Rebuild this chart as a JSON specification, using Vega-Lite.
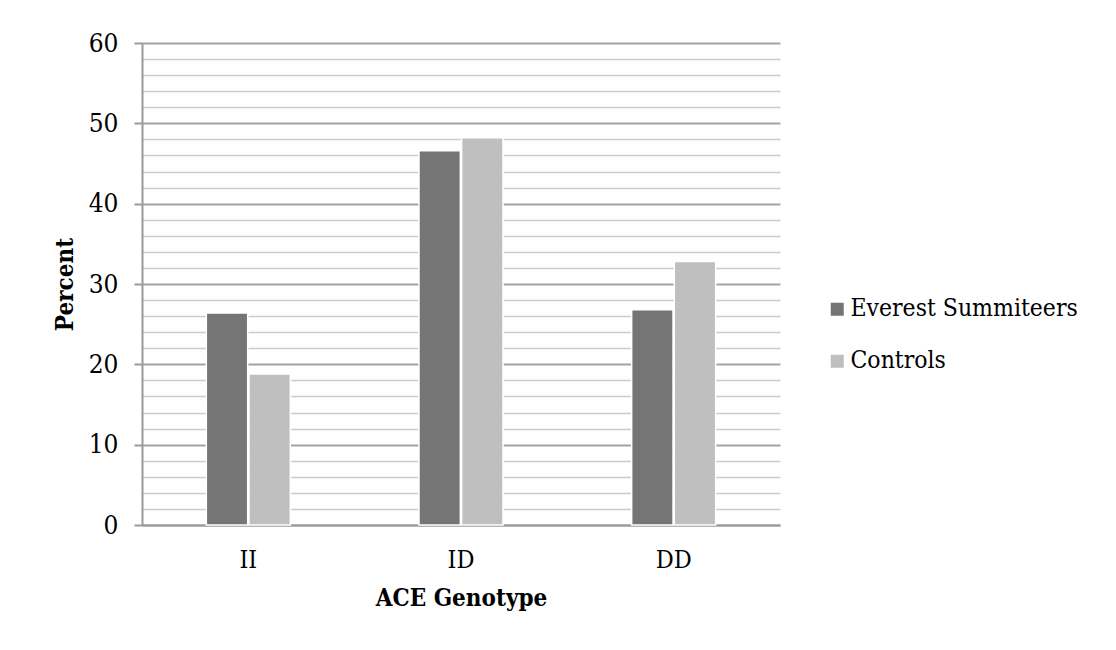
{
  "$schema": "https://vega.github.io/schema/vega-lite/v6.json",
  "autosize": {"type": "none"},
  "width": 638,
  "height": 482,
  "padding": {"left": 142, "top": 43, "right": 336, "bottom": 125},
  "background": "white",
  "config": {"view": {"stroke": null}, "font": "DejaVu Serif Condensed"},
  "data": {
    "values": [
      {"genotype": "II", "group": "Everest Summiteers", "percent": 26.4},
      {"genotype": "II", "group": "Controls", "percent": 18.8},
      {"genotype": "ID", "group": "Everest Summiteers", "percent": 46.6},
      {"genotype": "ID", "group": "Controls", "percent": 48.2},
      {"genotype": "DD", "group": "Everest Summiteers", "percent": 26.8},
      {"genotype": "DD", "group": "Controls", "percent": 32.8}
    ]
  },
  "mark": {"type": "bar", "stroke": "white", "strokeWidth": 1.5},
  "encoding": {
    "x": {
      "field": "genotype",
      "type": "nominal",
      "sort": ["II", "ID", "DD"],
      "scale": {"paddingInner": 0.605, "paddingOuter": 0.3025},
      "axis": {
        "title": "ACE Genotype",
        "titleFont": "DejaVu Serif Condensed",
        "titleFontSize": 24,
        "titleFontWeight": "bold",
        "titleColor": "black",
        "titlePadding": 14,
        "labelAngle": 0,
        "labelFont": "DejaVu Serif Condensed",
        "labelFontSize": 25,
        "labelColor": "black",
        "labelPadding": 22,
        "ticks": false,
        "domainColor": "#9a9a9a",
        "domainWidth": 2,
        "grid": false
      }
    },
    "xOffset": {"field": "group", "type": "nominal", "sort": ["Everest Summiteers", "Controls"], "scale": {"paddingInner": 0.03}},
    "y": {
      "field": "percent",
      "type": "quantitative",
      "scale": {"domain": [0, 60], "nice": false},
      "axis": {
        "title": "Percent",
        "titleFont": "DejaVu Serif Condensed",
        "titleFontSize": 24,
        "titleFontWeight": "bold",
        "titleColor": "black",
        "titlePadding": 11,
        "values": [0, 2, 4, 6, 8, 10, 12, 14, 16, 18, 20, 22, 24, 26, 28, 30, 32, 34, 36, 38, 40, 42, 44, 46, 48, 50, 52, 54, 56, 58, 60],
        "labelExpr": "datum.value % 10 === 0 ? datum.label : ''",
        "labelFont": "DejaVu Serif Condensed",
        "labelFontSize": 26,
        "labelColor": "black",
        "labelPadding": 16,
        "tickSize": 8,
        "tickColor": "#9a9a9a",
        "tickWidth": 2,
        "tickOpacity": {"condition": {"test": "datum.value % 10 === 0", "value": 1}, "value": 0},
        "domainColor": "#9a9a9a",
        "domainWidth": 2,
        "grid": true,
        "gridColor": {"condition": {"test": "datum.value % 10 === 0", "value": "#a3a3a3"}, "value": "#cccccc"},
        "gridWidth": {"condition": {"test": "datum.value % 10 === 0", "value": 2}, "value": 1.3}
      }
    },
    "color": {
      "field": "group",
      "type": "nominal",
      "sort": ["Everest Summiteers", "Controls"],
      "scale": {"domain": ["Everest Summiteers", "Controls"], "range": ["#757575", "#bfbfbf"]},
      "legend": {
        "title": null,
        "orient": "none",
        "legendX": 683,
        "legendY": 254,
        "symbolType": "square",
        "symbolSize": 169,
        "symbolStrokeWidth": 0,
        "labelFont": "DejaVu Serif Condensed",
        "labelFontSize": 24.5,
        "labelColor": "black",
        "labelOffset": 1,
        "labelLimit": 400,
        "rowPadding": 27,
        "padding": 0
      }
    }
  }
}
